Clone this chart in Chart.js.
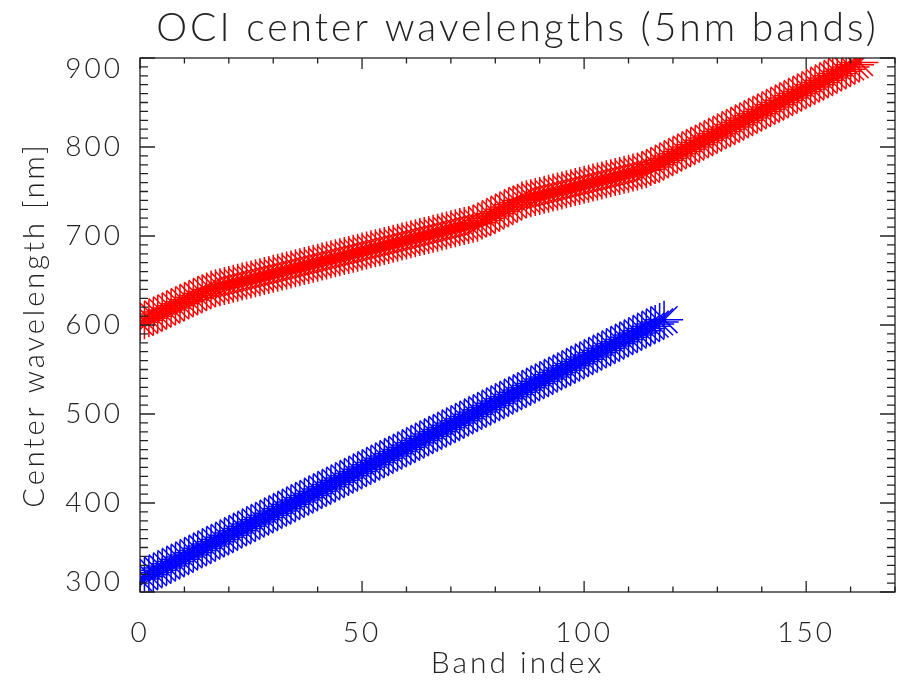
<!DOCTYPE html>
<html lang="en">

<head>
    <meta charset="UTF-8">
    <title>OCI center wavelengths</title>
    <script src="https://cdn.jsdelivr.net/npm/chart.js@4.4.1/dist/chart.umd.min.js"></script>
    <style>
        body { margin: 0; background: #fff; }
    </style>
</head>

<body>
    <canvas id="chart" width="899" height="681"></canvas>

    <script>
        // center wavelengths [nm], one value per band index
        const blueWavelengths = [
            314.5, 317.0, 319.4, 321.9, 324.4, 326.9, 329.3, 331.8, 334.3, 336.7,
            339.2, 341.7, 344.1, 346.6, 349.1, 351.6, 354.0, 356.5, 359.0, 361.4,
            363.9, 366.4, 368.8, 371.3, 373.8, 376.3, 378.7, 381.2, 383.7, 386.1,
            388.6, 391.1, 393.5, 396.0, 398.5, 401.0, 403.4, 405.9, 408.4, 410.8,
            413.3, 415.8, 418.2, 420.7, 423.2, 425.7, 428.1, 430.6, 433.1, 435.5,
            438.0, 440.5, 442.9, 445.4, 447.9, 450.4, 452.8, 455.3, 457.8, 460.2,
            462.7, 465.2, 467.6, 470.1, 472.6, 475.1, 477.5, 480.0, 482.5, 484.9,
            487.4, 489.9, 492.3, 494.8, 497.3, 499.8, 502.2, 504.7, 507.2, 509.6,
            512.1, 514.6, 517.0, 519.5, 522.0, 524.5, 526.9, 529.4, 531.9, 534.3,
            536.8, 539.3, 541.7, 544.2, 546.7, 549.2, 551.6, 554.1, 556.6, 559.0,
            561.5, 564.0, 566.4, 568.9, 571.4, 573.9, 576.3, 578.8, 581.3, 583.7,
            586.2, 588.7, 591.1, 593.6, 596.1, 598.6, 601.0, 603.5, 606.0
        ];

        const redWavelengths = [
            603.0, 605.3, 607.6, 609.9, 612.3, 614.6, 616.9, 619.2, 621.5, 623.8,
            626.1, 628.4, 630.8, 633.1, 635.4, 637.7, 640.0,
            641.25, 642.5, 643.75, 645.0, 646.25, 647.5, 648.75, 650.0,
            651.25, 652.5, 653.75, 655.0, 656.25, 657.5, 658.75, 660.0,
            661.25, 662.5, 663.75, 665.0, 666.25, 667.5, 668.75, 670.0,
            671.25, 672.5, 673.75, 675.0, 676.25, 677.5, 678.75, 680.0,
            681.25, 682.5, 683.75, 685.0, 686.25, 687.5, 688.75, 690.0,
            691.25, 692.5, 693.75, 695.0, 696.25, 697.5, 698.75, 700.0,
            701.25, 702.5, 703.75, 705.0, 706.25, 707.5, 708.75, 710.0,
            711.25, 712.5, 713.75, 715.0,
            717.5, 720.0, 722.5, 725.0, 727.5, 730.0, 732.5, 735.0, 737.5, 740.0,
            741.25, 742.5, 743.75, 745.0, 746.25, 747.5, 748.75, 750.0,
            751.25, 752.5, 753.75, 755.0, 756.25, 757.5, 758.75, 760.0,
            761.25, 762.5, 763.75, 765.0, 766.25, 767.5, 768.75, 770.0,
            771.25, 772.5, 773.75, 775.0,
            777.5, 780.0, 782.5, 785.0, 787.5, 790.0, 792.5, 795.0, 797.5, 800.0,
            802.5, 805.0, 807.5, 810.0, 812.5, 815.0, 817.5, 820.0, 822.5, 825.0,
            827.5, 830.0, 832.5, 835.0, 837.5, 840.0, 842.5, 845.0, 847.5, 850.0,
            852.5, 855.0, 857.5, 860.0, 862.5, 865.0, 867.5, 870.0, 872.5, 875.0,
            877.5, 880.0, 882.5, 885.0, 887.5, 890.0, 892.5, 895.0
        ];

        const xTickLabels = [0, 50, 100, 150];
        const yTickLabels = [300, 400, 500, 600, 700, 800, 900];

        const FONT = 'Lato, "Open Sans", "DejaVu Sans", sans-serif';
        const INK = '#222';

        // band index is just the position in the array
        const toPoints = arr => arr.map((v, i) => ({ x: i, y: v }));

        // IDL style frame: box on all four sides, ticks pointing inward
        const frameTicks = {
            id: 'frameTicks',
            // the IDL vector font is wide, spread the letters a bit
            beforeLayout(chart) { chart.ctx.letterSpacing = '3px'; },
            beforeDraw(chart) { chart.ctx.letterSpacing = '3px'; },
            afterLayout(chart) {
                // IDL pulls the first and last y label inside the box
                const y = chart.scales.y;
                if (!y.getLabelItems) return;
                y.getLabelItems(chart.chartArea).forEach(item => {
                    const t = item.options && item.options.translation;
                    if (!t) return;
                    if (item.label === String(y.max)) t[1] += 11;
                    if (item.label === String(y.min)) t[1] -= 10;
                });
            },
            afterDatasetsDraw(chart) {
                const { ctx, chartArea: a, scales: { x, y } } = chart;
                ctx.save();
                ctx.strokeStyle = INK;
                ctx.lineWidth = 1.3;
                ctx.strokeRect(a.left, a.top, a.right - a.left, a.bottom - a.top);
                ctx.beginPath();
                for (let v = x.min; v <= x.max; v += 10) {
                    const px = x.getPixelForValue(v);
                    const len = v % 50 === 0 ? 11 : 5.5;
                    ctx.moveTo(px, a.bottom); ctx.lineTo(px, a.bottom - len);
                    ctx.moveTo(px, a.top); ctx.lineTo(px, a.top + len);
                }
                for (let v = y.min; v <= y.max; v += 10) {
                    const py = y.getPixelForValue(v);
                    const len = v % 100 === 0 ? 15 : 8;
                    ctx.moveTo(a.left, py); ctx.lineTo(a.left + len, py);
                    ctx.moveTo(a.right, py); ctx.lineTo(a.right - len, py);
                }
                ctx.stroke();
                ctx.restore();
            }
        };

        const ctx = document.getElementById('chart').getContext('2d');

        new Chart(ctx, {
            type: 'scatter',
            data: {
                datasets: [{
                    label: 'blue',
                    data: toPoints(blueWavelengths),
                    pointStyle: 'star',
                    pointRadius: 19,
                    pointBorderWidth: 1.5,
                    borderColor: '#0000ff',
                    backgroundColor: '#0000ff',
                    clip: 0
                }, {
                    label: 'red',
                    data: toPoints(redWavelengths),
                    pointStyle: 'star',
                    pointRadius: 19,
                    pointBorderWidth: 1.5,
                    borderColor: '#ff0000',
                    backgroundColor: '#ff0000',
                    clip: 0
                }]
            },
            options: {
                responsive: false,
                animation: false,
                events: [],
                layout: { autoPadding: false, padding: { left: 0, right: 4, top: 0, bottom: 0 } },
                plugins: {
                    legend: { display: false },
                    tooltip: { enabled: false },
                    title: {
                        display: true,
                        text: 'OCI center wavelengths (5nm bands)',
                        color: INK,
                        fullSize: false,
                        font: { family: FONT, size: 39, weight: 300, lineHeight: 1.2 },
                        padding: { top: 5, bottom: 6.2 }
                    }
                },
                scales: {
                    x: {
                        type: 'linear',
                        min: 0,
                        max: 170,
                        afterFit(scale) { scale.height = 89; },
                        afterBuildTicks(scale) { scale.ticks = xTickLabels.map(v => ({ value: v })); },
                        grid: { display: false },
                        border: { display: false },
                        ticks: {
                            color: INK,
                            padding: 16,
                            maxRotation: 0,
                            font: { family: FONT, size: 28, weight: 300 }
                        },
                        title: {
                            display: true,
                            text: 'Band index',
                            color: INK,
                            padding: { top: 0, bottom: 0 },
                            font: { family: FONT, size: 30, weight: 300, lineHeight: 1.2 }
                        }
                    },
                    y: {
                        type: 'linear',
                        min: 300,
                        max: 900,
                        afterFit(scale) { scale.width = 140; },
                        afterBuildTicks(scale) { scale.ticks = yTickLabels.map(v => ({ value: v })); },
                        grid: { display: false },
                        border: { display: false },
                        ticks: {
                            color: INK,
                            padding: 9,
                            font: { family: FONT, size: 28, weight: 300 }
                        },
                        title: {
                            display: true,
                            text: 'Center wavelength [nm]',
                            color: INK,
                            padding: { top: 17, bottom: 0 },
                            font: { family: FONT, size: 29, weight: 300, lineHeight: 1.2 }
                        }
                    }
                }
            },
            plugins: [frameTicks]
        });
    </script>

</body>

</html>
